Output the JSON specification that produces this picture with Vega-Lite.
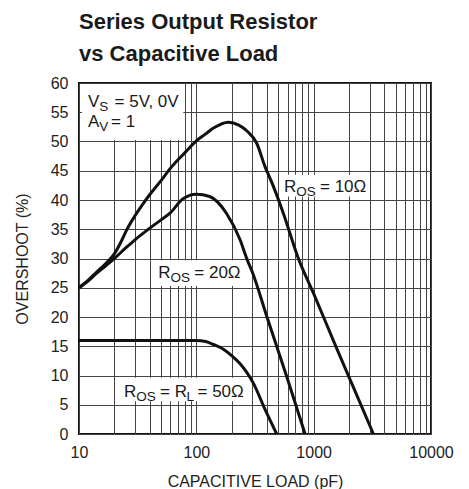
{
  "$schema": "https://vega.github.io/schema/vega-lite/v6.json",
  "width": 352,
  "height": 351,
  "autosize": {"type": "none"},
  "padding": {"left": 79, "top": 83, "right": 38, "bottom": 55},
  "background": "white",
  "title": {
    "text": ["Series Output Resistor", "vs Capacitive Load"],
    "anchor": "start",
    "frame": "group",
    "font": "Liberation Sans",
    "fontSize": 22,
    "fontWeight": "bold",
    "lineHeight": 32,
    "color": "#1a1a1a",
    "offset": 9
  },
  "config": {
    "view": {"stroke": "#111", "strokeWidth": 2},
    "axis": {
      "grid": true,
      "gridColor": "#444",
      "gridOpacity": 1,
      "gridWidth": 1,
      "ticks": false,
      "domain": false,
      "labelFont": "Liberation Sans",
      "labelFontSize": 16,
      "labelColor": "#222",
      "titleFont": "Liberation Sans",
      "titleFontSize": 16,
      "titleFontWeight": "normal",
      "titleColor": "#222",
      "labelOverlap": false,
      "labelFlush": false
    }
  },
  "datasets": {
    "curves": [
      {"C": 10, "v": 25, "s": "10"}, {"C": 12, "v": 26.3, "s": "10"}, {"C": 14, "v": 27.6, "s": "10"},
      {"C": 17, "v": 29.2, "s": "10"}, {"C": 20, "v": 30.8, "s": "10"}, {"C": 23, "v": 33, "s": "10"},
      {"C": 25.5, "v": 34.9, "s": "10"}, {"C": 30, "v": 37.3, "s": "10"}, {"C": 35, "v": 39.3, "s": "10"},
      {"C": 40, "v": 40.9, "s": "10"}, {"C": 50, "v": 43.3, "s": "10"}, {"C": 60, "v": 45.4, "s": "10"},
      {"C": 80, "v": 48.1, "s": "10"}, {"C": 100, "v": 50.1, "s": "10"}, {"C": 120, "v": 51.3, "s": "10"},
      {"C": 140, "v": 52.3, "s": "10"}, {"C": 188, "v": 53.3, "s": "10"}, {"C": 230, "v": 52.8, "s": "10"},
      {"C": 270, "v": 51.8, "s": "10"}, {"C": 327, "v": 49.7, "s": "10"}, {"C": 385, "v": 45.7, "s": "10"},
      {"C": 450, "v": 42.5, "s": "10"}, {"C": 552, "v": 37.7, "s": "10"}, {"C": 741, "v": 30, "s": "10"},
      {"C": 1000, "v": 24, "s": "10"}, {"C": 1574, "v": 14.6, "s": "10"}, {"C": 2178, "v": 8, "s": "10"},
      {"C": 3230, "v": 0, "s": "10"},
      {"C": 10, "v": 25, "s": "20"}, {"C": 12, "v": 26.2, "s": "20"}, {"C": 14, "v": 27.4, "s": "20"},
      {"C": 17, "v": 28.8, "s": "20"}, {"C": 20, "v": 30, "s": "20"}, {"C": 25, "v": 31.8, "s": "20"},
      {"C": 30, "v": 33.2, "s": "20"}, {"C": 39, "v": 35, "s": "20"}, {"C": 50, "v": 36.6, "s": "20"},
      {"C": 60, "v": 37.8, "s": "20"}, {"C": 77, "v": 40.2, "s": "20"}, {"C": 100, "v": 41, "s": "20"},
      {"C": 130, "v": 40.6, "s": "20"}, {"C": 181, "v": 37.7, "s": "20"}, {"C": 236, "v": 33.2, "s": "20"},
      {"C": 270, "v": 29.9, "s": "20"}, {"C": 300, "v": 27.7, "s": "20"}, {"C": 400, "v": 20, "s": "20"},
      {"C": 590, "v": 9.8, "s": "20"}, {"C": 845, "v": 0, "s": "20"},
      {"C": 10, "v": 16, "s": "50"}, {"C": 30, "v": 16, "s": "50"}, {"C": 60, "v": 16, "s": "50"},
      {"C": 100, "v": 16, "s": "50"}, {"C": 120, "v": 15.8, "s": "50"}, {"C": 140, "v": 15.3, "s": "50"},
      {"C": 170, "v": 14.5, "s": "50"}, {"C": 200, "v": 13.4, "s": "50"}, {"C": 236, "v": 12, "s": "50"},
      {"C": 270, "v": 10.5, "s": "50"}, {"C": 306, "v": 8.7, "s": "50"}, {"C": 385, "v": 4.2, "s": "50"},
      {"C": 484, "v": 0, "s": "50"}
    ],
    "boxes": [
      {"C": 10.6, "C2": 77.4, "v": 50.25, "v2": 59.85},
      {"C": 516, "C2": 2831, "v": 40.6, "v2": 44.3},
      {"C": 41.6, "C2": 243.6, "v": 25.3, "v2": 29.7},
      {"C": 22.4, "C2": 260, "v": 5.6, "v2": 9.6}
    ],
    "mainText": [
      {"C": 11.94, "v": 55.9, "t": "V"},
      {"C": 20.08, "v": 55.9, "t": "= 5V, 0V"},
      {"C": 11.94, "v": 52.5, "t": "A"},
      {"C": 18.76, "v": 52.5, "t": "= 1"},
      {"C": 558.7, "v": 41.42, "t": "R"},
      {"C": 1132.7, "v": 41.42, "t": "= 10Ω"},
      {"C": 47.4, "v": 26.6, "t": "R"},
      {"C": 96.1, "v": 26.6, "t": "= 20Ω"},
      {"C": 24.18, "v": 6.38, "t": "R"},
      {"C": 49.0, "v": 6.38, "t": "= R"},
      {"C": 102.3, "v": 6.38, "t": "= 50Ω"}
    ],
    "subText": [
      {"C": 14.91, "v": 55.9, "t": "S"},
      {"C": 14.91, "v": 52.5, "t": "V"},
      {"C": 711.2, "v": 41.42, "t": "OS"},
      {"C": 60.34, "v": 26.6, "t": "OS"},
      {"C": 30.78, "v": 6.38, "t": "OS"},
      {"C": 82.4, "v": 6.38, "t": "L"}
    ]
  },
  "encoding": {
    "x": {
      "field": "C", "type": "quantitative",
      "scale": {"type": "log", "domain": [10, 10000], "nice": false},
      "axis": {
        "values": [10, 20, 30, 40, 50, 60, 70, 80, 90, 100, 200, 300, 400, 500, 600, 700, 800, 900, 1000, 2000, 3000, 4000, 5000, 6000, 7000, 8000, 9000, 10000],
        "format": "d",
        "labelExpr": "indexof([10, 100, 1000, 10000], datum.value) >= 0 ? datum.label : ''",
        "labelPadding": 10,
        "title": "CAPACITIVE LOAD (pF)",
        "titlePadding": 13
      }
    },
    "y": {
      "field": "v", "type": "quantitative",
      "scale": {"domain": [0, 60], "nice": false},
      "axis": {
        "values": [0, 5, 10, 15, 20, 25, 30, 35, 40, 45, 50, 55, 60],
        "labelPadding": 11,
        "title": "OVERSHOOT (%)",
        "titlePadding": 20
      }
    }
  },
  "layer": [
    {
      "data": {"name": "boxes"},
      "mark": {"type": "rect", "fill": "white", "stroke": null},
      "encoding": {
        "x2": {"field": "C2"},
        "y2": {"field": "v2"}
      }
    },
    {
      "data": {"name": "curves"},
      "mark": {"type": "line", "strokeWidth": 3, "color": "#111", "interpolate": "monotone"},
      "encoding": {
        "detail": {"field": "s"}
      }
    },
    {
      "data": {"name": "mainText"},
      "mark": {"type": "text", "align": "left", "baseline": "alphabetic", "font": "Liberation Sans", "fontSize": 17, "color": "#1a1a1a"},
      "encoding": {
        "text": {"field": "t"}
      }
    },
    {
      "data": {"name": "subText"},
      "mark": {"type": "text", "align": "left", "baseline": "alphabetic", "font": "Liberation Sans", "fontSize": 13.5, "dy": 4, "color": "#1a1a1a"},
      "encoding": {
        "text": {"field": "t"}
      }
    }
  ]
}
